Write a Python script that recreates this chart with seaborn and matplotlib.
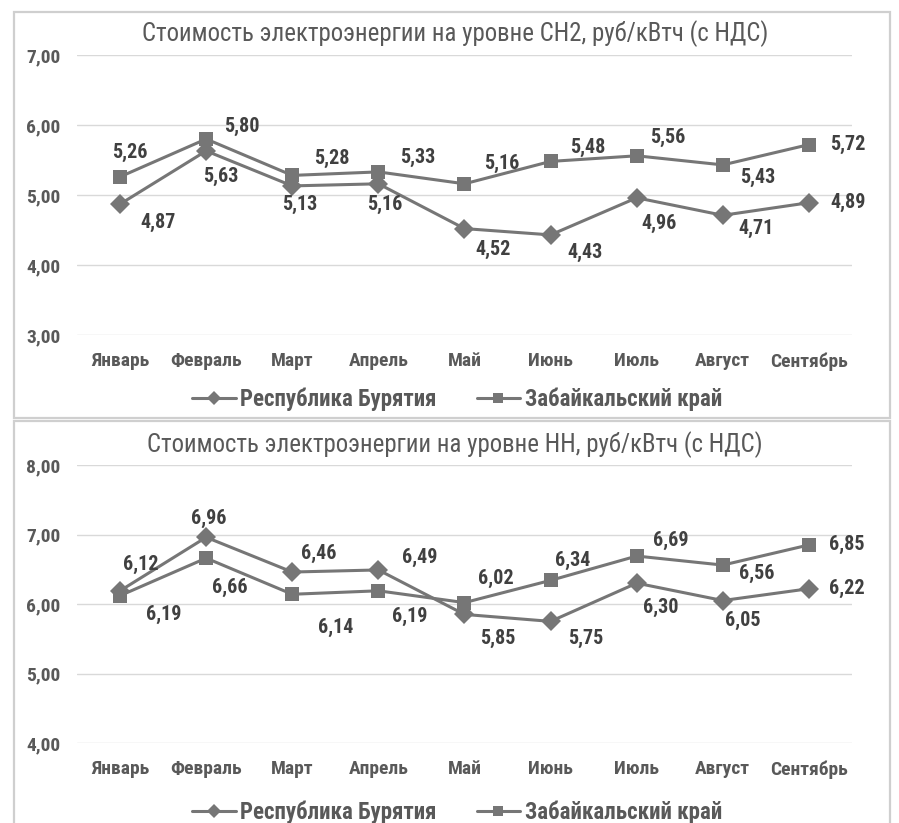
import matplotlib
matplotlib.use("Agg")
import matplotlib.pyplot as plt
import seaborn as sns
import pandas as pd
from matplotlib.patches import Rectangle
from matplotlib import font_manager

months = ["Январь", "Февраль", "Март", "Апрель", "Май", "Июнь", "Июль", "Август", "Сентябрь"]
series_names = ["Республика Бурятия", "Забайкальский край"]

ch2_buryatia = [4.87, 5.63, 5.13, 5.16, 4.52, 4.43, 4.96, 4.71, 4.89]
ch2_zabaykal = [5.26, 5.80, 5.28, 5.33, 5.16, 5.48, 5.56, 5.43, 5.72]
nn_buryatia = [6.19, 6.96, 6.46, 6.49, 5.85, 5.75, 6.30, 6.05, 6.22]
nn_zabaykal = [6.12, 6.66, 6.14, 6.19, 6.02, 6.34, 6.69, 6.56, 6.85]

title_ch2 = "Стоимость электроэнергии на уровне СН2, руб/кВтч (с НДС)"
title_nn = "Стоимость электроэнергии на уровне НН, руб/кВтч (с НДС)"
yticks_ch2 = [3, 4, 5, 6, 7]
yticks_nn = [4, 5, 6, 7, 8]

# label offsets in pixels (dx, dy upward)
off_ch2_b = [(38, -18), (15, -26), (7, -19), (6, -21), (29, -21), (34, -18), (22, -26), (33, -13), (39, 0)]
off_ch2_z = [(10, 24), (36, 13), (40, 17), (39, 14), (37, 20), (37, 14), (31, 18), (35, -13), (39, 0)]
off_nn_b = [(44, -24), (3, 19), (26, 19), (41, 13), (33, -24), (35, -17), (24, -24), (20, -20), (38, 0)]
off_nn_z = [(21, 31), (24, -29), (43, -33), (31, -26), (31, 24), (22, 20), (34, 16), (34, -8), (38, 0)]

avail = {f.name for f in font_manager.fontManager.ttflist}
main_font = "DejaVu Sans"
for cand in ["Liberation Sans Narrow", "Roboto Condensed", "Open Sans Condensed", "Lato", "Roboto"]:
    if cand in avail:
        main_font = cand
        break

sns.set_style("white")
plt.rcParams["font.family"] = [main_font, "DejaVu Sans"]

W, H = 899, 823
fig = plt.figure(figsize=(W / 100, H / 100), dpi=100)

LINE = "#767676"
TXT = "#595959"
LBL = "#404040"
GRID = "#d9d9d9"

def px_ax(x0, y0, x1, y1):
    return [x0 / W, 1 - y1 / H, (x1 - x0) / W, (y1 - y0) / H]

# panel borders
for (x0, y0, x1, y1) in [(14, 12, 890, 418), (14, 421, 890, 835)]:
    fig.patches.append(Rectangle((x0 / W, 1 - y1 / H), (x1 - x0) / W, (y1 - y0) / H,
                                 transform=fig.transFigure, fill=False,
                                 edgecolor="#cfcfcf", lw=1.6))

def draw(ax, b, z, offb, offz, yticks, title, title_y, leg_y):
    df = pd.DataFrame({
        "Месяц": months * 2,
        "Значение": b + z,
        "Регион": [series_names[0]] * len(months) + [series_names[1]] * len(months),
    })
    sns.lineplot(data=df, x="Месяц", y="Значение", hue="Регион", style="Регион",
                 markers={series_names[0]: "D", series_names[1]: "s"}, dashes=False,
                 palette={series_names[0]: LINE, series_names[1]: LINE},
                 linewidth=2.2, markersize=10, markeredgewidth=0, ax=ax, sort=False,
                 legend=True)
    for vals, offs in [(b, offb), (z, offz)]:
        for i, v in enumerate(vals):
            ax.annotate(f"{v:.2f}".replace(".", ","), (i, v), xytext=offs[i],
                        textcoords="offset pixels", ha="center", va="center",
                        fontsize=14.5, fontweight="bold", color=LBL)
    ax.set_xlim(-0.5, len(months) - 0.5)
    ax.set_ylim(yticks[0], yticks[-1])
    ax.set_yticks(yticks)
    ax.set_yticklabels([f"{t:.2f}".replace(".", ",") for t in yticks])
    ax.grid(axis="y", color=GRID, lw=1)
    ax.grid(axis="x", visible=False)
    for s in ax.spines.values():
        s.set_visible(False)
    ax.tick_params(axis="both", length=0, colors=TXT)
    ax.tick_params(axis="y", pad=12, labelsize=14)
    ax.tick_params(axis="x", pad=12.5, labelsize=14)
    for t in ax.get_xticklabels() + ax.get_yticklabels():
        t.set_fontweight("bold")
    ax.set_xlabel("")
    ax.set_ylabel("")
    fig.text(455 / W, 1 - title_y / H, title, ha="center", va="center",
             fontsize=17.9, color=TXT)
    handles, labels = ax.get_legend_handles_labels()
    for h in handles:
        h.set_markersize(7)
        h.set_linewidth(2.2)
    ax.legend(handles, labels, loc="center", bbox_to_anchor=(457 / W, 1 - leg_y / H),
              bbox_transform=fig.transFigure, ncol=2, frameon=False,
              prop={"family": [main_font, "DejaVu Sans"], "weight": "bold", "size": 16.5},
              labelcolor=TXT, handlelength=1.9, handletextpad=0.2, columnspacing=1.75)

ax1 = fig.add_axes(px_ax(77, 55, 852, 335))
draw(ax1, ch2_buryatia, ch2_zabaykal, off_ch2_b, off_ch2_z, yticks_ch2, title_ch2, 34, 399)

ax2 = fig.add_axes(px_ax(77, 465, 852, 743))
draw(ax2, nn_buryatia, nn_zabaykal, off_nn_b, off_nn_z, yticks_nn, title_nn, 445, 812)

fig.savefig("out.png", dpi=100, facecolor="white")
